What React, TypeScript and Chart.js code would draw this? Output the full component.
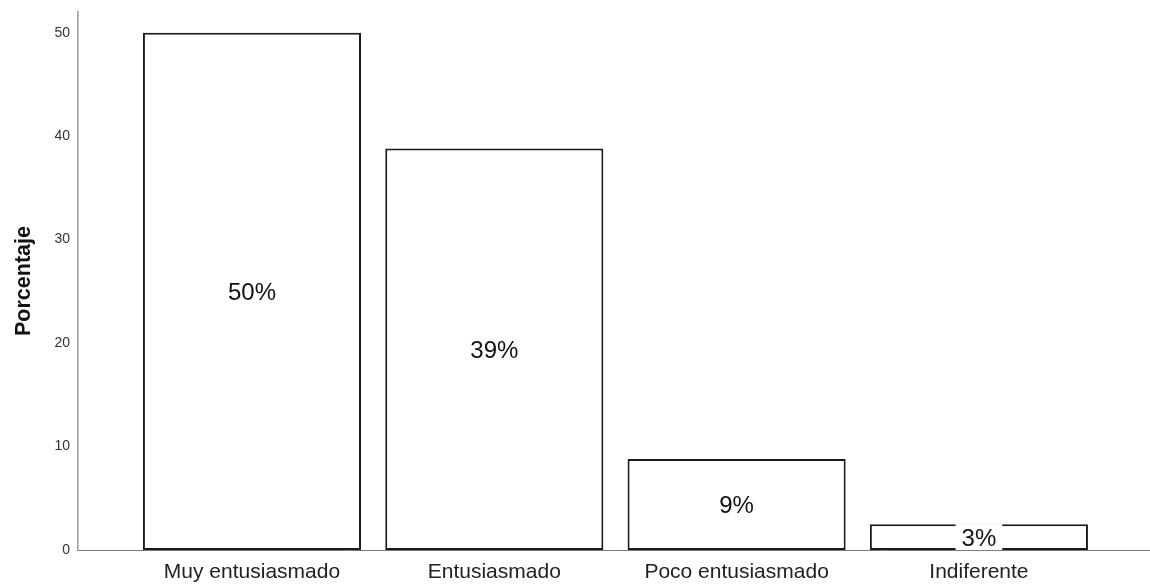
import React, { useEffect, useRef } from "react";
import { Chart, registerables } from "chart.js";

Chart.register(...registerables);

const categories = ["Muy entusiasmado", "Entusiasmado", "Poco entusiasmado", "Indiferente"];
const percentages = [50.0, 38.8, 8.8, 2.5];
const percentLabels = ["50%", "39%", "9%", "3%"];
const yTicks = [0, 10, 20, 30, 40, 50];

const FONT = "'Liberation Sans', Arial, sans-serif";

const barLabelPlugin = {
  id: "barLabels",
  afterDatasetsDraw(chart: any) {
    const ctx = chart.ctx;
    const meta = chart.getDatasetMeta(0);
    ctx.save();
    ctx.font = `24px ${FONT}`;
    ctx.textAlign = "center";
    ctx.textBaseline = "middle";
    meta.data.forEach((bar: any, i: number) => {
      const label = percentLabels[i];
      const cx = bar.x;
      const cy = (bar.y + bar.base) / 2 + 2;
      const w = ctx.measureText(label).width;
      ctx.fillStyle = "#ffffff";
      ctx.fillRect(cx - w / 2 - 6, cy - 15, w + 12, 26);
      ctx.fillStyle = "#111111";
      ctx.fillText(label, cx, cy);
    });
    ctx.restore();
  },
};

export default function App() {
  const ref = useRef<HTMLCanvasElement>(null);

  useEffect(() => {
    if (!ref.current) return;
    const chart = new Chart(ref.current, {
      type: "bar",
      data: {
        datasets: [
          {
            data: percentages.map((v, i) => ({ x: i, y: v })),
            backgroundColor: "#ffffff",
            borderColor: "#1a1a1a",
            borderWidth: 2,
            borderSkipped: false,
            categoryPercentage: 1,
            barPercentage: 0.9,
          },
        ],
      },
      options: {
        responsive: false,
        animation: false,
        layout: { padding: { top: 12, right: 0, left: 0, bottom: 0 } },
        plugins: {
          legend: { display: false },
          tooltip: { enabled: false },
        },
        scales: {
          x: {
            type: "linear",
            offset: false,
            min: -0.718,
            max: 3.706,
            grid: { display: false, drawTicks: false },
            border: { display: true, color: "#7a7a7a", width: 1 },
            afterBuildTicks: (scale: any) => {
              scale.ticks = categories.map((_, i) => ({ value: i }));
            },
            afterFit: (scale: any) => {
              scale.height = 35;
              scale.paddingLeft = 0;
              scale.paddingRight = 0;
            },
            ticks: {
              autoSkip: false,
              maxRotation: 0,
              padding: 10,
              color: "#222222",
              font: { family: FONT, size: 21 },
              callback: (v: any) => categories[Math.round(Number(v))] ?? "",
            },
          },
          y: {
            min: 0,
            max: 52,
            grid: { display: false, drawTicks: false },
            border: { display: true, color: "#a0a0a0", width: 1.6 },
            afterBuildTicks: (scale: any) => {
              scale.ticks = yTicks.map((v) => ({ value: v }));
            },
            afterFit: (scale: any) => {
              scale.width = 78;
              scale.paddingTop = 0;
              scale.paddingBottom = 0;
            },
            ticks: {
              padding: 8,
              color: "#333333",
              font: { family: FONT, size: 14 },
            },
            title: {
              display: true,
              text: "Porcentaje",
              color: "#111111",
              padding: { top: 11, bottom: 0 },
              font: { family: FONT, size: 21.5, weight: "bold" },
            },
          },
        },
      },
      plugins: [barLabelPlugin],
    } as any);
    return () => chart.destroy();
  }, []);

  return (
    <div style={{ position: "absolute", left: 0, top: 0, width: 1150, height: 585, background: "#fff" }}>
      <canvas ref={ref} width={1150} height={585} style={{ display: "block" }} />
    </div>
  );
}
